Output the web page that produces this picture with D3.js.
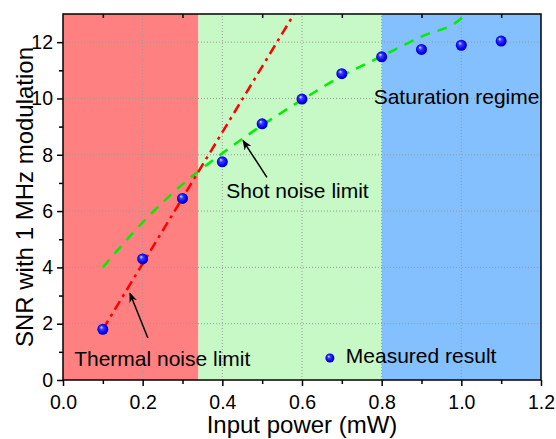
<!DOCTYPE html>
<html>
<head>
<meta charset="utf-8">
<script src="https://cdn.jsdelivr.net/npm/d3@7"></script>
<style>
  body { margin: 0; background: #fff; }
  svg text { font-family: "Liberation Sans", Arial, sans-serif; fill: #000; }
</style>
</head>
<body>
<div id="chart"></div>
<script>
// measured SNR vs input power
const powerX = [0.1, 0.2, 0.3, 0.4, 0.5, 0.6, 0.7, 0.8, 0.9, 1.0, 1.1];
const snrY = [1.8, 4.3, 6.45, 7.75, 9.1, 9.98, 10.88, 11.48, 11.74, 11.89, 12.04];
// model curves
const thermalLine = [[0.1, 1.8], [0.58, 13]];
const shotLine = [[0.1, 4.0], [0.2, 5.6], [0.3, 6.95], [0.4, 8.05], [0.5, 9.05], [0.6, 9.95],
  [0.7, 10.8], [0.8, 11.5], [0.9, 12.2], [1.0, 12.85], [1.01, 13]];
// shaded regimes
const regimes = [
  {from: 0, to: 0.34, color: "#ff8080"},
  {from: 0.34, to: 0.8, color: "#c6f9c6"},
  {from: 0.8, to: 1.2, color: "#84bffe"}
];
const xTicks = [0.0, 0.2, 0.4, 0.6, 0.8, 1.0, 1.2];
const yTicks = [0, 2, 4, 6, 8, 10, 12];

const W = 556, H = 439;
const margin = {top: 14, right: 15, bottom: 59, left: 63};
const svg = d3.select("#chart").append("svg").attr("width", W).attr("height", H);

const x = d3.scaleLinear().domain([0, 1.2]).range([margin.left, W - margin.right]);
const y = d3.scaleLinear().domain([0, 13]).range([H - margin.bottom, margin.top]);

const defs = svg.append("defs");
defs.append("clipPath").attr("id", "clip").append("rect")
  .attr("x", x(0)).attr("y", y(13)).attr("width", x(1.2) - x(0)).attr("height", y(0) - y(13));
const grad = defs.append("radialGradient").attr("id", "ball")
  .attr("cx", "50%").attr("cy", "50%").attr("r", "55%").attr("fx", "35%").attr("fy", "30%");
grad.append("stop").attr("offset", "0%").attr("stop-color", "#e6e6ff");
grad.append("stop").attr("offset", "30%").attr("stop-color", "#3a3aff");
grad.append("stop").attr("offset", "75%").attr("stop-color", "#0000f0");
grad.append("stop").attr("offset", "100%").attr("stop-color", "#00008a");

defs.append("marker").attr("id", "arrow").attr("viewBox", "0 0 10 10")
  .attr("refX", 9).attr("refY", 5).attr("markerWidth", 10).attr("markerHeight", 10)
  .attr("markerUnits", "userSpaceOnUse").attr("orient", "auto")
  .append("path").attr("d", "M0,1 L10,5 L0,9 L3,5 Z").attr("fill", "#000");

svg.selectAll("rect.regime").data(regimes).join("rect").attr("class", "regime")
  .attr("x", d => x(d.from)).attr("y", y(13))
  .attr("width", d => x(d.to) - x(d.from)).attr("height", y(0) - y(13))
  .attr("fill", d => d.color);

// dotted grid
const grid = svg.append("g").attr("stroke", "#9a9a9a").attr("stroke-width", 1).attr("stroke-dasharray", "1,2");
grid.selectAll("line.gx").data(xTicks.slice(1, -1)).join("line")
  .attr("x1", d => x(d)).attr("x2", d => x(d)).attr("y1", y(0)).attr("y2", y(13));
grid.selectAll("line.gy").data(yTicks.slice(1)).join("line")
  .attr("x1", x(0)).attr("x2", x(1.2)).attr("y1", d => y(d)).attr("y2", d => y(d));

const plot = svg.append("g").attr("clip-path", "url(#clip)");
plot.append("path").datum(shotLine).attr("fill", "none").attr("stroke", "#00ee00")
  .attr("stroke-width", 2.5).attr("stroke-dasharray", "10,8")
  .attr("d", d3.line().x(d => x(d[0])).y(d => y(d[1])).curve(d3.curveMonotoneX));
plot.append("path").datum(thermalLine).attr("fill", "none").attr("stroke", "#ff0000")
  .attr("stroke-width", 2.5).attr("stroke-dasharray", "10,5,3,5")
  .attr("d", d3.line().x(d => x(d[0])).y(d => y(d[1])));

svg.selectAll("circle.pt").data(powerX).join("circle").attr("class", "pt")
  .attr("cx", d => x(d)).attr("cy", (d, i) => y(snrY[i])).attr("r", 5.5)
  .attr("fill", "url(#ball)");

// axes
const axB = svg.append("g").attr("transform", `translate(0,${y(0)})`)
  .call(d3.axisBottom(x).tickValues(xTicks).tickFormat(d3.format(".1f")).tickSize(6).tickSizeOuter(0));
const axBm = svg.append("g").attr("transform", `translate(0,${y(0)})`)
  .call(d3.axisBottom(x).tickValues(d3.range(1, 12, 2).map(v => v / 10)).tickSize(4).tickFormat("").tickSizeOuter(0));
const axL = svg.append("g").attr("transform", `translate(${x(0)},0)`)
  .call(d3.axisLeft(y).tickValues(yTicks).tickSize(6).tickSizeOuter(0));
const axLm = svg.append("g").attr("transform", `translate(${x(0)},0)`)
  .call(d3.axisLeft(y).tickValues(d3.range(1, 13, 2)).tickSize(4).tickFormat("").tickSizeOuter(0));
const axT = svg.append("g").attr("transform", `translate(0,${y(13)})`)
  .call(d3.axisBottom(x).tickValues(d3.range(1, 12, 2).map(v => v / 10)).tickSize(4).tickFormat("").tickSizeOuter(0));
[axB, axBm, axL, axLm, axT].forEach(g => {
  g.select(".domain").remove();
  g.selectAll("line").attr("stroke", "#000").attr("stroke-width", 1.5);
  g.selectAll("text").attr("font-size", 19.5).attr("fill", "#000")
    .style("font-family", "'Liberation Sans', Arial, sans-serif");
});
axB.selectAll("text").attr("dy", "0.71em").attr("y", 15);
axL.selectAll("text").attr("x", -10);

svg.append("rect").attr("x", x(0)).attr("y", y(13))
  .attr("width", x(1.2) - x(0)).attr("height", y(0) - y(13))
  .attr("fill", "none").attr("stroke", "#000").attr("stroke-width", 1.5);

svg.append("text").attr("x", (x(0) + x(1.2)) / 2).attr("y", 433)
  .attr("text-anchor", "middle").attr("font-size", 24).text("Input power (mW)");
svg.append("text").attr("transform", `translate(33,${(y(0) + y(13)) / 2}) rotate(-90)`)
  .attr("text-anchor", "middle").attr("font-size", 24).text("SNR with 1 MHz modulation");

// annotations
const notes = [
  {text: "Thermal noise limit", x: 0.028, y: 0.5},
  {text: "Shot noise limit", x: 0.41, y: 6.48},
  {text: "Saturation regime", x: 0.78, y: 9.8},
  {text: "Measured result", x: 0.71, y: 0.6}
];
svg.selectAll("text.note").data(notes).join("text").attr("class", "note")
  .attr("x", d => x(d.x)).attr("y", d => y(d.y)).attr("font-size", 21).text(d => d.text);
svg.append("circle").attr("cx", x(0.67)).attr("cy", y(0.78)).attr("r", 4.5).attr("fill", "url(#ball)");

const arrows = [
  {from: [0.213, 1.49], to: [0.168, 3.08]},
  {from: [0.512, 7.2], to: [0.452, 8.5]}
];
svg.selectAll("line.arrow").data(arrows).join("line").attr("class", "arrow")
  .attr("x1", d => x(d.from[0])).attr("y1", d => y(d.from[1]))
  .attr("x2", d => x(d.to[0])).attr("y2", d => y(d.to[1]))
  .attr("stroke", "#000").attr("stroke-width", 1.5).attr("marker-end", "url(#arrow)");
</script>
</body>
</html>
